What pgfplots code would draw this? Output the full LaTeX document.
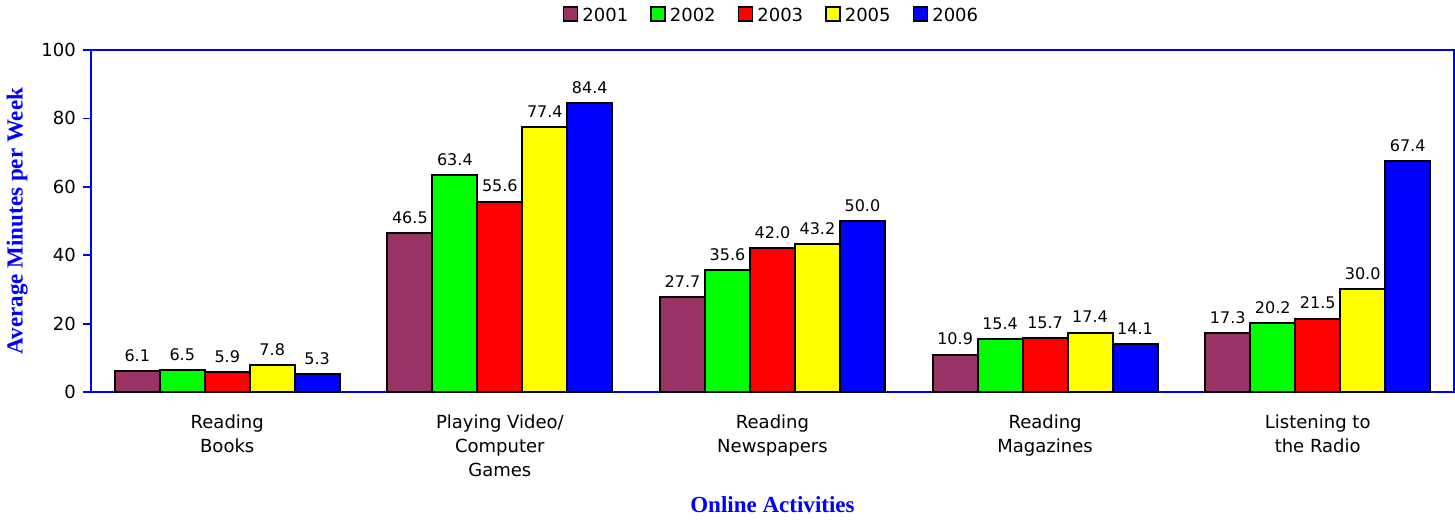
\documentclass[border=0pt]{standalone}
\usepackage{pgfplots}
\pgfplotsset{compat=1.18}
\usepackage{fontspec}
\setmainfont{DejaVu Sans}
\newfontfamily\serifbf{Liberation Serif}
\definecolor{c01}{HTML}{993366}
\definecolor{c02}{HTML}{00FF00}
\definecolor{c03}{HTML}{FF0000}
\definecolor{c05}{HTML}{FFFF00}
\definecolor{c06}{HTML}{0000FF}
\begin{document}
\begin{tikzpicture}
\begin{axis}[
  scale only axis,
  width=681pt, height=171pt,
  ybar=0pt,
  bar width=0.165,
  xmin=-0.5, xmax=4.5,
  ymin=0, ymax=100,
  ytick={0,20,...,100},
  xtick=data,
  xticklabels={{Reading\\Books},{Playing Video/\\Computer\\Games},{Reading\\Newspapers},{Reading\\Magazines},{Listening to\\the Radio}},
  xticklabel style={align=center, font=\fontsize{9}{12}\selectfont, yshift=-4pt},
  yticklabel style={font=\fontsize{9}{10}\selectfont},
  /pgf/number format/assume math mode=true,
  major x tick style={draw=none},
  axis line style={draw=blue, line width=1pt},
  y tick style={draw=blue, line width=0.8pt},
  tick align=outside,
  ytick pos=left,
  major tick length=4pt,
  xlabel={\serifbf\bfseries Online Activities},
  ylabel={\serifbf\bfseries Average Minutes per Week},
  xlabel style={font=\fontsize{11.5}{13}\selectfont, text=blue, yshift=-3pt},
  ylabel style={font=\fontsize{11.5}{13}\selectfont, text=blue, yshift=0pt},
  nodes near coords,
  nodes near coords style={font=\fontsize{8}{9}\selectfont, /pgf/number format/fixed, /pgf/number format/fixed zerofill, /pgf/number format/precision=1, yshift=1pt},
  legend style={at={(0.5,1.05)}, anchor=south, draw=none, legend columns=5, font=\fontsize{9}{10}\selectfont, /tikz/every even column/.append style={column sep=9pt}},
  legend image code/.code={\draw[#1, draw=black, line width=0.8pt] (0pt,-2.5pt) rectangle (7pt,4.5pt);},
  every axis plot/.append style={draw=black, line width=1pt},
]
\addplot[fill=c01] coordinates {(0,6.1) (1,46.5) (2,27.7) (3,10.9) (4,17.3)};
\addplot[fill=c02] coordinates {(0,6.5) (1,63.4) (2,35.6) (3,15.4) (4,20.2)};
\addplot[fill=c03] coordinates {(0,5.9) (1,55.6) (2,42.0) (3,15.7) (4,21.5)};
\addplot[fill=c05] coordinates {(0,7.8) (1,77.4) (2,43.2) (3,17.4) (4,30.0)};
\addplot[fill=c06] coordinates {(0,5.3) (1,84.4) (2,50.0) (3,14.1) (4,67.4)};
\legend{2001,2002,2003,2005,2006}
\end{axis}
\end{tikzpicture}
\end{document}
